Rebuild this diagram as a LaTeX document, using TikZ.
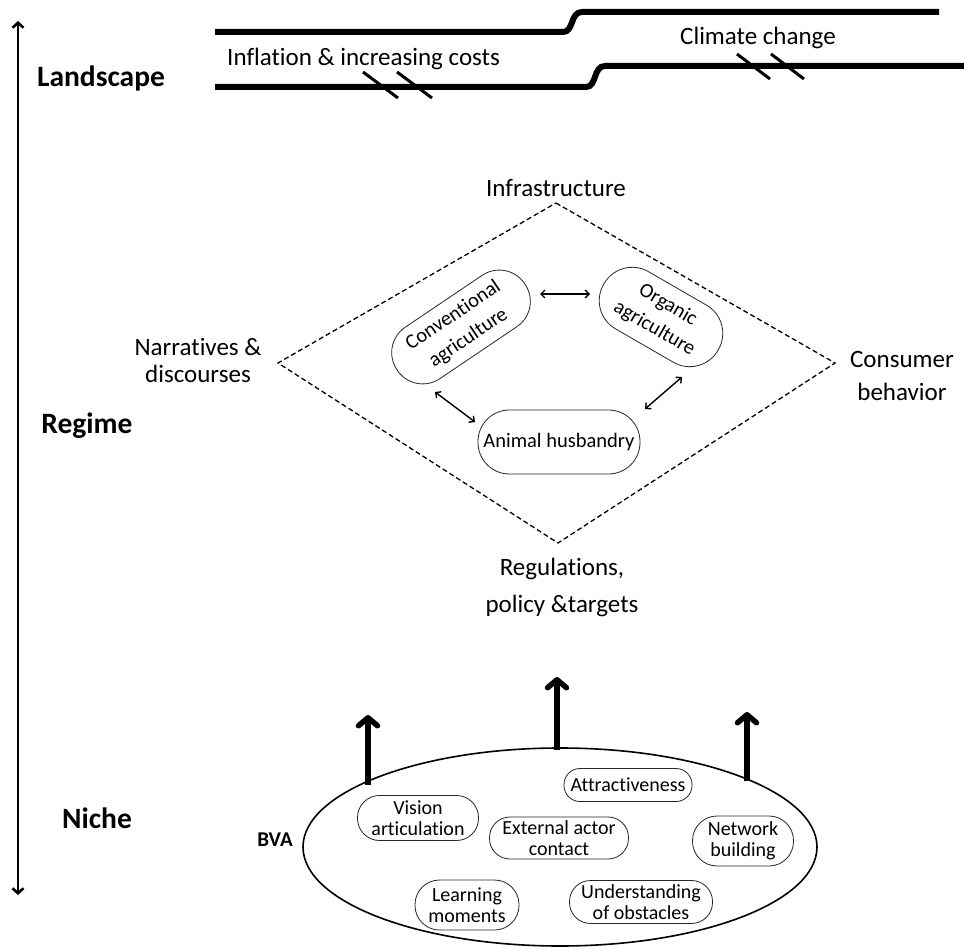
\documentclass[tikz,border=0pt]{standalone}
\usepackage{fontspec}
\setmainfont{Carlito}[Ligatures=NoCommon]
\usetikzlibrary{arrows.meta,shapes.geometric}
\begin{document}
\begin{tikzpicture}[x=1pt,y=-1pt,
  txt/.style={font=\fontsize{25}{27}\selectfont, inner sep=0pt, align=center},
  lbl/.style={font=\fontsize{29.5}{32}\selectfont\bfseries, inner sep=0pt},
  pill/.style n args={3}{draw=black!85, line width=0.8pt, rectangle, rounded corners=#3pt,
      minimum width=#1pt, minimum height=#2pt, inner sep=0pt, align=center},
  bigpill/.style={font=\fontsize{20.5}{27}\selectfont},
  smallpill/.style={font=\fontsize{20}{20.5}\selectfont},
  landline/.style={line width=6pt},
  hatch/.style={line width=3pt},
  twoway/.style={line width=1.4pt, {Straight Barb[length=4pt,width=8pt]}-{Straight Barb[length=4pt,width=8pt]}},
  uparrow/.style={line width=5.5pt, -{Straight Barb[length=8pt,width=19pt,round]}},
  axis/.style={line width=2.6pt, {Straight Barb[length=5pt,width=11pt]}-{Straight Barb[length=5pt,width=11pt]}},
  regimeframe/.style={line width=1.3pt, dash pattern=on 5pt off 3pt}
]
\useasboundingbox (0,0) rectangle (964,949);
\fill[white] (0,0) rectangle (964,949);

% vertical axis
\coordinate (vt) at (18,21);
\coordinate (vb) at (18,895);
\draw[axis] (vt) -- (vb);

% level labels
\node[lbl, anchor=base] (landscape) at (101,87) {Landscape};
\node[lbl, anchor=base] (regime) at (87,434) {Regime};
\node[lbl, anchor=base] (niche) at (97,828) {Niche};

% landscape lines
\draw[landline] (215,32) -- (563,32) .. controls (574,32) and (570,12) .. (582,12) -- (939,12);
\draw[landline] (215,87) -- (586,87) .. controls (597,87) and (593,66) .. (605,66) -- (964,66);
\node[txt, anchor=base west] (inflation) at (227,65.5) {Inflation \& increasing costs};
\node[txt, anchor=base west] (climate) at (680,45) {Climate change};
\draw[hatch] (363,72) -- (398,98);
\draw[hatch] (397,72) -- (432,98);
\draw[hatch] (737,54) -- (770,79);
\draw[hatch] (771,54) -- (804,79);

% regime diamond
\coordinate (dtop) at (556,203);
\coordinate (dright) at (835,363);
\coordinate (dbottom) at (558,543);
\coordinate (dleft) at (278,363);
\draw[regimeframe] (dtop) -- (dright) -- (dbottom) -- (dleft) -- cycle;

\node[txt, anchor=base] (infra) at (556,197) {Infrastructure};
\node[txt, font=\fontsize{25}{27}\selectfont] (narr) at (198,360.5) {Narratives \&\\discourses};
\node[txt, font=\fontsize{25}{33}\selectfont] (cons) at (902,375.5) {Consumer\\behavior};
\node[txt, font=\fontsize{25}{37}\selectfont] (regul) at (562,587) {Regulations,\\policy \&targets};

\node[pill={154}{62}{30.5}, bigpill, rotate=34] (conv) at (461,327) {Conventional\\agriculture};
\node[pill={132}{66}{32.5}, bigpill, rotate=-30] (org) at (661,317) {Organic\\agriculture};
\node[pill={162}{64}{31.5}, bigpill] (animal) at (559,442) {Animal husbandry};

\coordinate (c1a) at (540,294);
\coordinate (c1b) at (590,294);
\coordinate (c2a) at (435,392);
\coordinate (c2b) at (475,422);
\coordinate (c3a) at (682,377);
\coordinate (c3b) at (645,409);
\draw[twoway] (c1a) -- (c1b);
\draw[twoway] (c2a) -- (c2b);
\draw[twoway] (c3a) -- (c3b);

% niche
\node[draw, ellipse, line width=1.6pt, minimum width=514pt, minimum height=198pt, inner sep=0pt] (bva) at (560,847) {};
\node[lbl, font=\fontsize{21}{23}\selectfont\bfseries, anchor=base] (bvalabel) at (275,846) {BVA};

\coordinate (n1s) at (368,785);
\coordinate (n1t) at (368,715);
\coordinate (n2s) at (557,750);
\coordinate (n2t) at (557,677);
\coordinate (n3s) at (747,781);
\coordinate (n3t) at (747,712);
\draw[uparrow] (n1s) -- (n1t);
\draw[uparrow] (n2s) -- (n2t);
\draw[uparrow] (n3s) -- (n3t);

\node[pill={128}{33}{16}, smallpill] (attr) at (628,785) {Attractiveness};
\node[pill={121}{45}{22}, smallpill] (vision) at (418,818) {Vision\\articulation};
\node[pill={139}{42}{20.5}, smallpill] (ext) at (559,838) {External actor\\contact};
\node[pill={101}{50}{24.5}, smallpill] (net) at (743,841) {Network\\building};
\node[pill={104}{50}{24.5}, smallpill] (learn) at (467,905) {Learning\\moments};
\node[pill={143}{43}{21}, smallpill] (under) at (641,902) {Understanding\\of obstacles};
\end{tikzpicture}
\end{document}
